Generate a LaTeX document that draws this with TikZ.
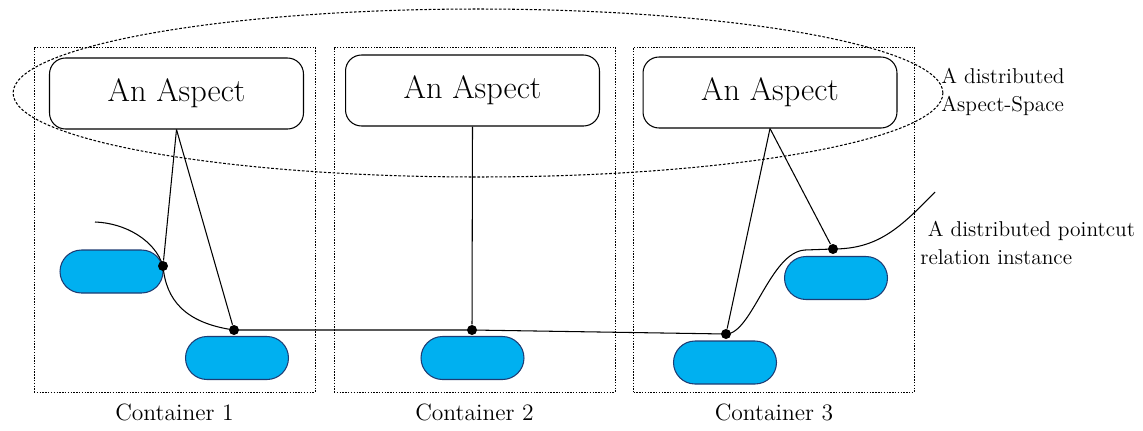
\documentclass[tikz,border=0pt]{standalone}
\usepackage{tikz}
\usetikzlibrary{positioning}
\definecolor{pillblue}{RGB}{0,176,240}
\definecolor{pilledge}{RGB}{30,60,115}

\begin{document}
\begin{tikzpicture}[x=0.02cm,y=-0.02cm,line width=0.6pt,
   container/.style={draw,dash pattern=on 0.8pt off 0.8pt,line width=0.5pt,minimum width=5.62cm,minimum height=6.9cm,inner sep=0},
   aspect/.style={draw,fill=white,rounded corners=0.32cm,minimum width=5.08cm,minimum height=1.42cm,font=\fontsize{18.4}{22}\selectfont},
   pill/.style={draw=pilledge,fill=pillblue,rounded corners=0.43cm,minimum width=2.06cm,minimum height=0.86cm},
   joint/.style={circle,fill,inner sep=0,minimum size=0.2cm},
   clabel/.style={font=\fontsize{13.4}{16}\selectfont},
   note/.style={anchor=west,align=left,font=\fontsize{12.2}{16}\selectfont}]
   \useasboundingbox (0,0) rectangle (1143,430);
   % containers
   \node[container] (C1) at (174.5,219.5) {};
   \node[container] (C2) at (474.5,219.5) {};
   \node[container] (C3) at (774,219.5) {};
   \node[clabel] (L1) [below=0.1cm of C1] {Container 1};
   \node[clabel] (L2) [below=0.1cm of C2] {Container 2};
   \node[clabel] (L3) [below=0.1cm of C3] {Container 3};
   % aspect space
   \draw[dash pattern=on 1.5pt off 1pt,line width=0.6pt] (478,93) ellipse [x radius=9.3cm,y radius=1.68cm];
   \node[aspect] (A1) at (176.5,93.5) {An Aspect};
   \node[aspect] (A2) at (472.5,90.5) {An Aspect};
   \node[aspect] (A3) at (770,92.5) {An Aspect};
   \node[note] (space) at (935,92) {A distributed\\Aspect-Space};
   % join points
   \node[pill] (B1) at (111.5,271.5) {};
   \node[pill] (B2) at (237,358) {};
   \node[pill] (B3) at (472.5,358) {};
   \node[pill] (B4) at (725,362.5) {};
   \node[pill] (B5) at (836,278) {};
   \node[joint] (J1) at (163,266) {};
   \node[joint] (J2) at (234,330) {};
   \node[joint] (J3) at (472,330) {};
   \node[joint] (J4) at (726,334) {};
   \node[joint] (J5) at (833,249) {};
   \path[draw]
    (A1.south) edge (J1)
               edge (J2)
    (A2.south) edge (J3)
    (A3.south) edge (J4)
               edge (J5);
   % pointcut
   \coordinate (P0) at (95,222);
   \coordinate (P1) at (935,192);
   \draw (P0) .. controls (125,223) and (155,240) .. (J1.center)
              .. controls (166,300) and (185,323) .. (J2.center)
              -- (J3.center) -- (J4.center)
              .. controls (752,334) and (770,252) .. (805,250)
              -- (J5.center)
              .. controls (878,249) and (900,228) .. (P1);
   \node[note] (cut) at (914,243) {\hspace{0.15cm}A distributed pointcut\\relation instance};
\end{tikzpicture}
\end{document}
